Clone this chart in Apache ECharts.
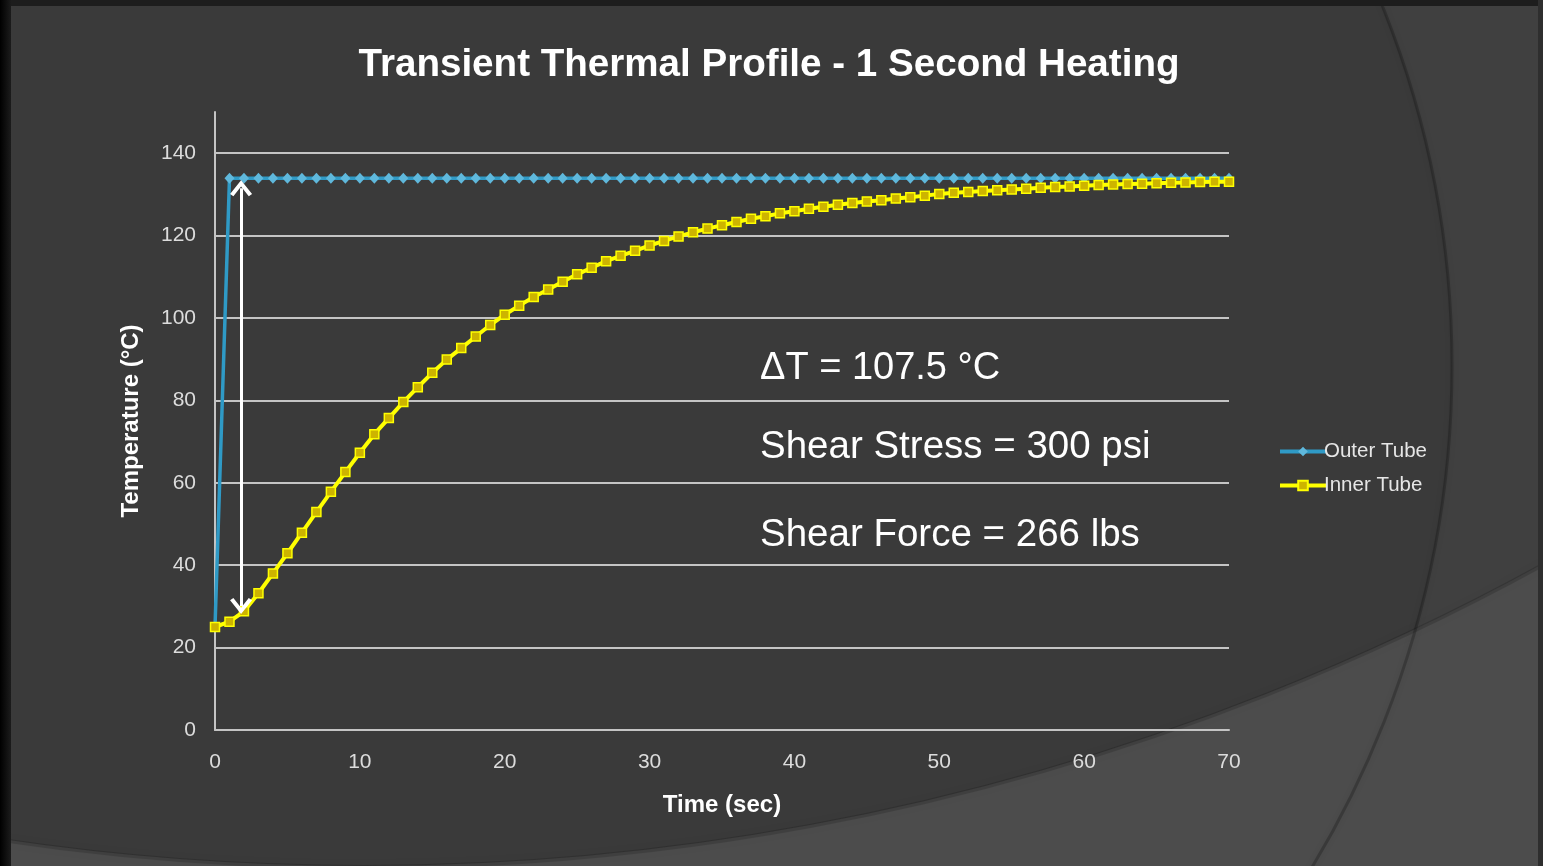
<!DOCTYPE html>
<html>
<head>
<meta charset="utf-8">
<script src="https://cdn.jsdelivr.net/npm/echarts@6/dist/echarts.min.js"></script>
<style>
html,body{margin:0;padding:0;background:#3a3a3a;}
#chart{width:1543px;height:866px;}
</style>
</head>
<body>
<div id="chart"></div>
<script>
// ---- data ----
const timeSec = [0,1,2,3,4,5,6,7,8,9,10,11,12,13,14,15,16,17,18,19,20,21,22,23,24,25,26,27,28,29,30,31,32,33,34,35,36,37,38,39,40,41,42,43,44,45,46,47,48,49,50,51,52,53,54,55,56,57,58,59,60,61,62,63,64,65,66,67,68,69,70];
const outerTube = [25,133.9,133.9,133.9,133.9,133.9,133.9,133.9,133.9,133.9,133.9,133.9,133.9,133.9,133.9,133.9,133.9,133.9,133.9,133.9,133.9,133.9,133.9,133.9,133.9,133.9,133.9,133.9,133.9,133.9,133.9,133.9,133.9,133.9,133.9,133.9,133.9,133.9,133.9,133.9,133.9,133.9,133.9,133.9,133.9,133.9,133.9,133.9,133.9,133.9,133.9,133.9,133.9,133.9,133.9,133.9,133.9,133.9,133.9,133.9,133.9,133.9,133.9,133.9,133.9,133.9,133.9,133.9,133.9,133.9,133.9];
const innerTube = [25,26.3,28.8,33.2,38.0,42.9,47.9,52.9,57.8,62.6,67.3,71.8,75.7,79.6,83.2,86.7,89.9,92.7,95.5,98.3,100.8,103.0,105.1,106.9,108.8,110.6,112.2,113.8,115.1,116.3,117.6,118.7,119.8,120.8,121.7,122.5,123.3,124.1,124.7,125.4,125.9,126.5,127.0,127.5,127.9,128.3,128.6,129.0,129.3,129.7,130.1,130.4,130.6,130.8,131.0,131.2,131.4,131.6,131.8,131.9,132.1,132.3,132.4,132.5,132.6,132.7,132.8,132.9,133.0,133.1,133.1];
const seriesNames = ['Outer Tube','Inner Tube'];
const titleText = 'Transient Thermal Profile - 1 Second Heating';
const xAxisTitle = 'Time (sec)';
const yAxisTitle = 'Temperature (\u00B0C)';
const annotations = ['\u0394T = 107.5 \u00B0C','Shear Stress = 300 psi','Shear Force = 266 lbs'];
const arrowTime = 1.8;
const arrowTop = 131.5;
const arrowBottom = 30.1;

const chart = echarts.init(document.getElementById('chart'), null, {renderer:'canvas'});
const FONT = '"Liberation Sans", Arial, sans-serif';
const chevron = 'path://M10,0 L20,12 L17,14 L10,5.5 L3,14 L0,12 Z';

const option = {
  backgroundColor: '#3a3a3a',
  animation: false,
  title: {
    text: titleText,
    left: 764, top: 41, textAlign: 'center',
    textStyle: {color:'#ffffff', fontFamily: FONT, fontWeight:'bold', fontSize: 38.6}
  },
  grid: {left: 215, right: 314, top: 112, bottom: 136, containLabel: false},
  legend: {
    orient: 'vertical', left: 1273, top: 436, itemGap: 13,
    itemWidth: 46, itemHeight: 12,
    textStyle: {color:'#e6e6e6', fontFamily: FONT, fontSize: 20.5, padding:[0,0,0,-7]},
    data: [
      {name: seriesNames[0], lineStyle:{width:4}},
      {name: seriesNames[1], lineStyle:{width:4}}
    ]
  },
  xAxis: {
    type: 'value', min: 0, max: 70, interval: 10,
    name: xAxisTitle, nameLocation: 'middle', nameGap: 63,
    nameTextStyle: {color:'#ffffff', fontFamily: FONT, fontWeight:'bold', fontSize: 24},
    axisLine: {show:true, lineStyle:{color:'#c4c4c4', width:2}},
    axisTick: {show:false},
    axisLabel: {color:'#dcdcdc', fontFamily: FONT, fontSize: 21, margin: 22},
    splitLine: {show:false}
  },
  yAxis: {
    type: 'value', min: 0, max: 150, interval: 20,
    name: yAxisTitle, nameLocation: 'middle', nameGap: 72,
    nameTextStyle: {color:'#ffffff', fontFamily: FONT, fontWeight:'bold', fontSize: 24},
    axisLine: {show:true, onZero:false, lineStyle:{color:'#c4c4c4', width:2}},
    axisTick: {show:false},
    axisLabel: {color:'#dcdcdc', fontFamily: FONT, fontSize: 21, margin: 19, showMaxLabel:false},
    splitLine: {show:true, showMaxLine:false, lineStyle:{color:'#c4c4c4', width:2}}
  },
  series: [
    {
      name: seriesNames[0], type: 'line',
      data: timeSec.map((t,i)=>[t, outerTube[i]]),
      symbol: 'diamond', symbolSize: [10,11],
      lineStyle: {color:'#2f9ac6', width: 3.5},
      itemStyle: {color:'#5fb8dc'},
      z: 3,
      markLine: {
        silent: true, animation:false,
        symbol: [chevron, chevron], symbolSize: [22,16],
        lineStyle: {color:'#ffffff', width: 3, type:'solid'},
        itemStyle: {color:'#ffffff'},
        label: {show:false},
        emphasis: {disabled:true},
        data: [[{coord:[arrowTime, arrowTop]}, {coord:[arrowTime, arrowBottom]}]]
      }
    },
    {
      name: seriesNames[1], type: 'line',
      data: timeSec.map((t,i)=>[t, innerTube[i]]),
      symbol: 'rect', symbolSize: 9,
      lineStyle: {color:'#ffff00', width: 4},
      itemStyle: {color:'#cdb400', borderColor:'#ffff00', borderWidth: 1.5},
      z: 4
    }
  ],
  graphic: [
    // background decoration
    {type:'circle', z:-5, silent:true, shape:{cx:486, cy:366, r:966+700}, style:{fill:null, stroke:'#404040', lineWidth:1400}},
    {type:'circle', z:-5, silent:true, shape:{cx:364, cy:-1584, r:2450+600}, style:{fill:null, stroke:'#4c4c4c', lineWidth:1200}},
    {type:'circle', z:-4, silent:true, shape:{cx:486, cy:366, r:966}, style:{fill:null, stroke:'rgba(0,0,0,0.22)', lineWidth:3, shadowBlur:6, shadowColor:'rgba(0,0,0,0.35)'}},
    {type:'circle', z:-4, silent:true, shape:{cx:364, cy:-1584, r:2451}, style:{fill:null, stroke:'rgba(0,0,0,0.15)', lineWidth:4, shadowBlur:8, shadowColor:'rgba(0,0,0,0.35)'}},
    {type:'rect', z:-3, silent:true, shape:{x:0, y:0, width:1543, height:6}, style:{fill:'#1d1d1d'}},
    {type:'rect', z:-3, silent:true, shape:{x:1538, y:0, width:5, height:866}, style:{fill:'#2e2e2e'}},
    {type:'rect', z:-3, silent:true, shape:{x:0, y:0, width:11, height:866},
      style:{fill:new echarts.graphic.LinearGradient(0,0,1,0,[{offset:0,color:'#000000'},{offset:1,color:'#1c1c1c'}])}},
    // annotation texts
    {type:'text', z:10, left:760, top:350, style:{text:annotations[0], fill:'#ffffff', font:'38px ' + FONT}},
    {type:'text', z:10, left:760, top:428, style:{text:annotations[1], fill:'#ffffff', font:'38.5px ' + FONT}},
    {type:'text', z:10, left:760, top:516, style:{text:annotations[2], fill:'#ffffff', font:'38.5px ' + FONT}}
  ]
};
chart.setOption(option);
</script>
</body>
</html>
